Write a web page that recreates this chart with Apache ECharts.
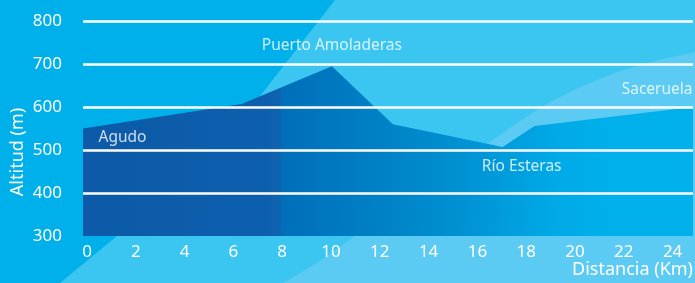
<!DOCTYPE html>
<html>
<head>
    <meta charset="utf-8">
    <title>Perfil</title>
    <script src="https://cdn.jsdelivr.net/npm/echarts@6/dist/echarts.min.js"></script>
    <style>
      html, body { margin: 0; padding: 0; background: #00b0ea; }
    </style>
</head>
<body>
    <div id="perfil" style="width: 695px;height:283px;"></div>
    <script type="text/javascript">
    // datos del perfil
    var distKm = [0, 6.5, 10.2, 12.7, 17.2, 18.5, 25];
    var altM = [550, 607, 695, 560, 507, 556, 600];
    var lugares = ['Agudo', '', 'Puerto Amoladeras', '', 'Río Esteras', '', 'Saceruela'];
    var xTicks = [0, 2, 4, 6, 8, 10, 12, 14, 16, 18, 20, 22, 24];
    var yTicks = [300, 400, 500, 600, 700, 800];

    var fuente = '"Noto Sans", "Open Sans", sans-serif';

    // donde va cada etiqueta respecto a su punto
    var etiquetas = {
      'Agudo': { position: 'right', offset: [10, 9] },
      'Puerto Amoladeras': { position: 'top', offset: [0, -7] },
      'Río Esteras': { position: 'bottom', offset: [19, 6] },
      'Saceruela': { position: 'left', offset: [5, -17] }
    };

    var perfil = distKm.map(function (d, i) { return [d, altM[i]]; });

    var puntosNombre = [];
    distKm.forEach(function (d, i) {
      var n = lugares[i];
      if (!n) return;
      puntosNombre.push({
        value: [d, altM[i]],
        label: {
          show: true,
          formatter: n,
          position: etiquetas[n].position,
          offset: etiquetas[n].offset,
          distance: 5
        }
      });
    });

    var chart = echarts.init(document.getElementById('perfil'));

    var option = {
      backgroundColor: '#00b0ea',
      animation: false,
      graphic: [
        {
          type: 'polygon', z: 0, silent: true,
          shape: { points: [[335, 0], [695, 0], [695, 283], [60, 283], [117, 236], [190, 165], [257, 100]] },
          style: { fill: '#3bc6f1' }
        },
        {
          type: 'polygon', z: 1, silent: true,
          shape: {
            points: [[283, 283], [317, 263], [400, 204], [483, 147], [520, 121], [550, 102], [585, 85], [617, 72], [655, 61], [695, 52], [695, 283]]
          },
          style: { fill: '#5ccbf3' }
        },
        {
          type: 'text', z: 10, silent: true,
          x: 18, y: 152, rotation: Math.PI / 2,
          style: {
            text: 'Altitud (m)', fill: '#fff', fontSize: 18, fontFamily: fuente,
            align: 'center', verticalAlign: 'middle'
          }
        },
        {
          type: 'text', z: 10, silent: true,
          right: 2, top: 261,
          style: { text: 'Distancia (Km)', fill: '#fff', fontSize: 18, fontFamily: fuente }
        }
      ],
      grid: { left: 83, right: 2, top: 21, bottom: 47 },
      xAxis: {
        type: 'value',
        min: 0,
        max: 25,
        interval: 2,
        z: 5,
        axisLine: { show: false },
        axisTick: { show: false },
        splitLine: { show: false },
        axisLabel: {
          color: '#fff',
          fontSize: 17,
          fontFamily: fuente,
          margin: 8,
          padding: [0, 0, 0, 8],
          customValues: xTicks
        }
      },
      yAxis: {
        type: 'value',
        min: yTicks[0],
        max: yTicks[yTicks.length - 1],
        interval: 100,
        z: 5,
        axisLine: { show: false },
        axisTick: { show: false },
        axisLabel: {
          color: '#fff',
          fontSize: 17,
          fontFamily: fuente,
          margin: 21
        },
        splitLine: {
          showMinLine: false,
          lineStyle: { color: '#fff', width: 2.5 }
        }
      },
      series: [{
        type: 'line',
        data: perfil,
        symbol: 'none',
        z: 2,
        lineStyle: { width: 0 },
        areaStyle: {
          opacity: 1,
          color: {
            type: 'linear', x: 0, y: 0, x2: 1, y2: 0,
            colorStops: [
              { offset: 0, color: '#0c5aa8' },
              { offset: 0.3, color: '#0d5fad' },
              { offset: 0.322, color: '#0e63b1' },
              { offset: 0.328, color: '#006fba' },
              { offset: 0.5, color: '#0082c6' },
              { offset: 0.6, color: '#008fd1' },
              { offset: 0.684, color: '#009bdb' },
              { offset: 0.78, color: '#00aae7' },
              { offset: 0.86, color: '#00b0ea' },
              { offset: 1, color: '#00b0ea' }
            ]
          }
        }
      }, {
        type: 'scatter',
        data: puntosNombre,
        symbolSize: 1,
        z: 6,
        silent: true,
        itemStyle: { color: 'rgba(0,0,0,0)' },
        label: {
          color: '#fff',
          fontSize: 15.5,
          fontFamily: fuente
        }
      }]
    };

    chart.setOption(option);
    </script>
</body>
</html>
